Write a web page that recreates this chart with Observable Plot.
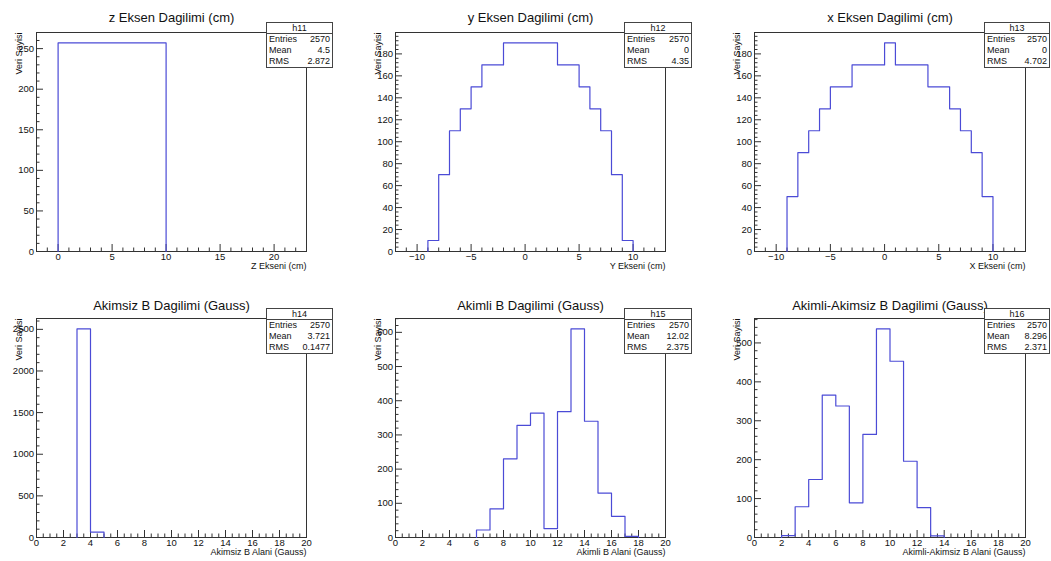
<!DOCTYPE html>
<html>
<head>
<meta charset="utf-8">
<script src="https://cdn.jsdelivr.net/npm/d3@7"></script>
<script src="https://cdn.jsdelivr.net/npm/@observablehq/plot@0.6"></script>
<style>
  body { margin: 0; background: #fff; font-family: "Liberation Sans", Arial, Helvetica, sans-serif; }
  #canvas { position: relative; width: 1051px; height: 561px; overflow: hidden; background: #fff; }
  .panel { position: absolute; }
  .panel svg { position: absolute; left: 0; top: 0; overflow: visible; }
  .stats { position: absolute; box-sizing: border-box; border: 1px solid #444; background: #fff;
           font-size: 9px; color: #111; }
  .stats .head { height: 10px; line-height: 10px; text-align: center; border-bottom: 1px solid #444; }
  .stats .row { display: flex; justify-content: space-between; padding: 0 2px; line-height: 11px; height: 11px; }
</style>
</head>
<body>
<div id="canvas"></div>
<script>
// ---- histogram contents (bin edges, counts per bin) ----
const zEdges  = [0, 1, 2, 3, 4, 5, 6, 7, 8, 9, 10];
const zCounts = [257, 257, 257, 257, 257, 257, 257, 257, 257, 257];

const yEdges  = [-9, -8, -7, -6, -5, -4, -3, -2, -1, 0, 1, 2, 3, 4, 5, 6, 7, 8, 9, 10];
const yCounts = [10, 70, 110, 130, 150, 170, 170, 190, 190, 190, 190, 190, 170, 170, 150, 130, 110, 70, 10];

const xEdges  = [-9, -8, -7, -6, -5, -4, -3, -2, -1, 0, 1, 2, 3, 4, 5, 6, 7, 8, 9, 10];
const xCounts = [50, 90, 110, 130, 150, 150, 170, 170, 170, 190, 170, 170, 170, 150, 150, 130, 110, 90, 50];

const b0Edges  = [3, 4, 5];
const b0Counts = [2505, 65];

const b1Edges  = [6, 7, 8, 9, 10, 11, 12, 13, 14, 15, 16, 17, 18];
const b1Counts = [22, 84, 230, 328, 364, 26, 368, 610, 340, 130, 62, 3];

const dbEdges  = [2, 3, 4, 5, 6, 7, 8, 9, 10, 11, 12, 13, 14];
const dbCounts = [5, 79, 149, 366, 338, 89, 265, 536, 453, 196, 77, 4];

// ---- axis tick labels ----
const zTicksX = [0, 5, 10, 15, 20];
const zTicksY = [0, 50, 100, 150, 200, 250];
const posTicksX = [-10, -5, 0, 5, 10];
const posTicksY = [0, 20, 40, 60, 80, 100, 120, 140, 160, 180];
const bTicksX = [0, 2, 4, 6, 8, 10, 12, 14, 16, 18, 20];
const b0TicksY = [0, 500, 1000, 1500, 2000, 2500];
const b1TicksY = [0, 100, 200, 300, 400, 500, 600];
const dbTicksY = [0, 100, 200, 300, 400, 500];

// ---- statistics boxes ----
const statNames = ["Entries", "Mean", "RMS"];
const statsH11 = ["2570", "4.5", "2.872"];
const statsH12 = ["2570", "0", "4.35"];
const statsH13 = ["2570", "0", "4.702"];
const statsH14 = ["2570", "3.721", "0.1477"];
const statsH15 = ["2570", "12.02", "2.375"];
const statsH16 = ["2570", "8.296", "2.371"];

const titles = [
  "z Eksen Dagilimi (cm)", "y Eksen Dagilimi (cm)", "x Eksen Dagilimi (cm)",
  "Akimsiz B Dagilimi (Gauss)", "Akimli B Dagilimi (Gauss)", "Akimli-Akimsiz B Dagilimi (Gauss)"
];
const xLabels = [
  "Z Ekseni (cm)", "Y Ekseni (cm)", "X Ekseni (cm)",
  "Akimsiz B Alani (Gauss)", "Akimli B Alani (Gauss)", "Akimli-Akimsiz B Alani (Gauss)"
];
const yLabel = "Veri Sayisi";

// ---- layout and style ----
const FONT = "Liberation Sans, Arial, Helvetica, sans-serif";
const HIST = "#4b4bd6";
const AXIS = "#333";
const cols = [
  {left: 0,   width: 350, mL: 36, mR: 44, box: 266, boxW: 67},
  {left: 350, width: 350, mL: 45, mR: 35, box: 274, boxW: 68},
  {left: 700, width: 351, mL: 54, mR: 26, box: 284, boxW: 66}
];
const rows = [
  {top: 0,   height: 280, mT: 32, mB: 29, titleDy: -19.5, xLabDy: 17.5, boxTop: 22},
  {top: 280, height: 281, mT: 38, mB: 24, titleDy: -18,   xLabDy: 17.5, boxTop: 28}
];

const panels = [
  {name: "h11", edges: zEdges,  counts: zCounts,  xDomain: [-2, 23],  xMajor: zTicksX,   xMinor: 1,   yMajor: zTicksY,   yMinor: 10,  stats: statsH11},
  {name: "h12", edges: yEdges,  counts: yCounts,  xDomain: [-12, 13], xMajor: posTicksX, xMinor: 1,   yMajor: posTicksY, yMinor: 4,   stats: statsH12},
  {name: "h13", edges: xEdges,  counts: xCounts,  xDomain: [-12, 13], xMajor: posTicksX, xMinor: 1,   yMajor: posTicksY, yMinor: 4,   stats: statsH13},
  {name: "h14", edges: b0Edges, counts: b0Counts, xDomain: [0, 20],   xMajor: bTicksX,   xMinor: 0.5, yMajor: b0TicksY,  yMinor: 100, stats: statsH14},
  {name: "h15", edges: b1Edges, counts: b1Counts, xDomain: [0, 20],   xMajor: bTicksX,   xMinor: 0.5, yMajor: b1TicksY,  yMinor: 20,  stats: statsH15},
  {name: "h16", edges: dbEdges, counts: dbCounts, xDomain: [0, 20],   xMajor: bTicksX,   xMinor: 0.5, yMajor: dbTicksY,  yMinor: 20,  stats: statsH16}
];

// plain integer labels, true minus sign for negatives
const fmt = d => (d < 0 ? "\u2212" + (-d) : String(d));

// outline of a histogram as a single stepped polyline
function outline(edges, counts) {
  const pts = [{x: edges[0], y: 0}];
  counts.forEach((c, i) => { pts.push({x: edges[i], y: c}, {x: edges[i + 1], y: c}); });
  pts.push({x: edges[edges.length - 1], y: 0});
  return pts;
}

function minorTicks(lo, hi, step, major) {
  return d3.range(Math.ceil(lo / step) * step, hi + 1e-9, step)
    .filter(v => !major.some(m => Math.abs(m - v) < 1e-9));
}

const canvas = document.getElementById("canvas");

panels.forEach((p, i) => {
  const col = cols[i % 3], row = rows[Math.floor(i / 3)];
  const w = col.width, h = row.height;
  const pw = w - col.mL - col.mR, ph = h - row.mT - row.mB;
  const yMax = d3.max(p.counts) * 1.05;
  const xMin = minorTicks(p.xDomain[0], p.xDomain[1], p.xMinor, p.xMajor);
  const yMin = minorTicks(0, yMax, p.yMinor, p.yMajor);

  const chart = Plot.plot({
    width: w, height: h,
    marginLeft: col.mL, marginRight: col.mR, marginTop: row.mT, marginBottom: row.mB,
    style: {fontFamily: FONT, fontSize: "9.5px", color: "#111", background: "transparent", overflow: "visible"},
    x: {domain: p.xDomain},
    y: {domain: [0, yMax]},
    marks: [
      Plot.frame({stroke: AXIS, strokeWidth: 1}),
      // inward-pointing ticks
      Plot.tickX(xMin, {x: d => d, insetTop: ph - 3.5, stroke: AXIS}),
      Plot.tickX(p.xMajor, {x: d => d, insetTop: ph - 7, stroke: AXIS}),
      Plot.tickY(yMin, {y: d => d, insetRight: pw - 3.5, stroke: AXIS}),
      Plot.tickY(p.yMajor, {y: d => d, insetRight: pw - 7, stroke: AXIS}),
      Plot.axisX({ticks: p.xMajor, tickFormat: fmt, tickSize: 0, tickPadding: 2, label: null, fontSize: 9.5}),
      Plot.axisY({ticks: p.yMajor, tickFormat: fmt, tickSize: 0, tickPadding: 2.5, label: null, fontSize: 9.5}),
      Plot.line(outline(p.edges, p.counts), {x: "x", y: "y", stroke: HIST, strokeWidth: 1.2}),
      Plot.text([titles[i]], {frameAnchor: "top", dy: row.titleDy, fontSize: 13, fill: "#111"}),
      Plot.text([xLabels[i]], {frameAnchor: "bottom-right", textAnchor: "end", dy: row.xLabDy, fontSize: 9, fill: "#111"}),
      Plot.text([yLabel], {frameAnchor: "top-left", textAnchor: "end", rotate: -90, dx: -20.5, fontSize: 9, fill: "#111"})
    ]
  });

  const div = document.createElement("div");
  div.className = "panel";
  div.style.left = col.left + "px";
  div.style.top = row.top + "px";
  div.style.width = w + "px";
  div.style.height = h + "px";
  div.appendChild(chart);

  const box = document.createElement("div");
  box.className = "stats";
  box.style.left = col.box + "px";
  box.style.top = row.boxTop + "px";
  box.style.width = col.boxW + "px";
  const head = document.createElement("div");
  head.className = "head";
  head.textContent = p.name;
  box.appendChild(head);
  statNames.forEach((n, k) => {
    const r = document.createElement("div");
    r.className = "row";
    const a = document.createElement("span"); a.textContent = n;
    const b = document.createElement("span"); b.textContent = p.stats[k];
    r.appendChild(a); r.appendChild(b);
    box.appendChild(r);
  });
  div.appendChild(box);
  canvas.appendChild(div);
});
</script>
</body>
</html>
